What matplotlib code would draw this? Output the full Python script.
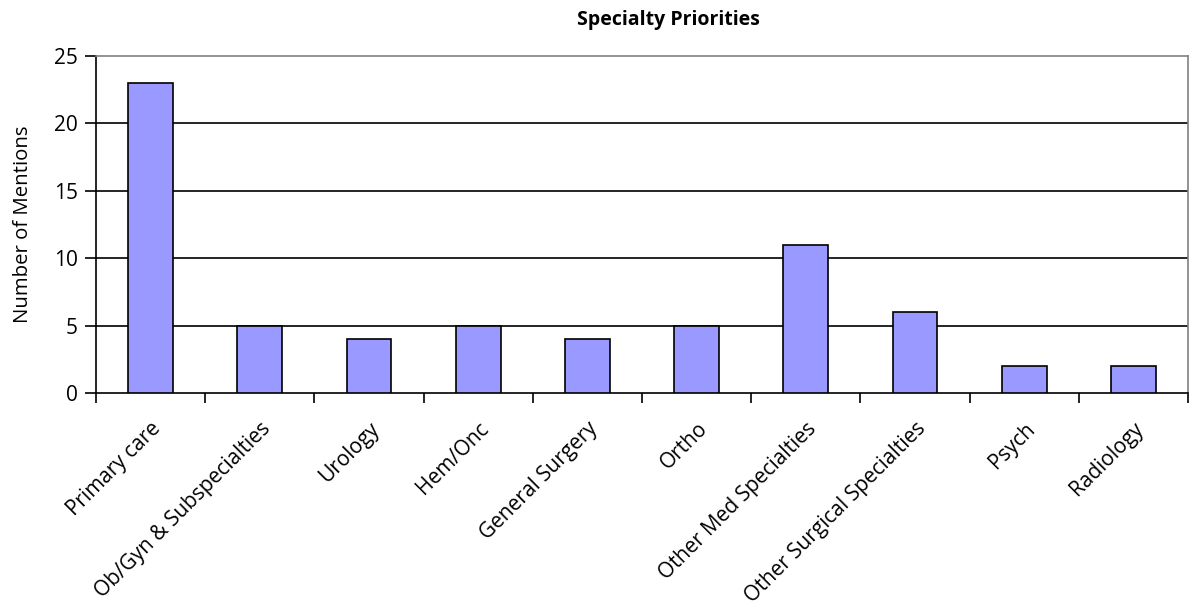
import numpy as np
import matplotlib
matplotlib.use('Agg')
import matplotlib.pyplot as plt

# Data
specialties = ['Primary care', 'Ob/Gyn & Subspecialties', 'Urology', 'Hem/Onc',
               'General Surgery', 'Ortho', 'Other Med Specialties',
               'Other Surgical Specialties', 'Psych', 'Radiology']
mentions = [23, 5, 4, 5, 4, 5, 11, 6, 2, 2]
y_ticks = [0, 5, 10, 15, 20, 25]

plt.rcParams['font.family'] = ['Open Sans', 'DejaVu Sans']

fig = plt.figure(figsize=(11.95, 6.07), dpi=100)
ax = fig.add_axes([0.0803, 0.352, 0.9138, 0.5562])

x = np.arange(len(specialties))
ax.bar(x, mentions, width=0.41, color='#9999FF', edgecolor='black', linewidth=1.2, zorder=3)

# Gridlines
for v in y_ticks[1:-1]:
    ax.axhline(v, color='black', linewidth=1.2, zorder=1)

ax.set_xlim(-0.5, len(specialties) - 0.5)
ax.set_ylim(0, 25)
ax.set_yticks(y_ticks)
ax.tick_params(axis='y', direction='out', length=8, width=1.2, labelsize=15, pad=5)

# Category ticks at boundaries, labels centered under bars
ax.set_xticks(np.arange(-0.5, len(specialties)), minor=False)
ax.set_xticklabels([])
ax.tick_params(axis='x', which='major', direction='out', length=7, width=1.2)
ax.set_xticks(x, minor=True)
ax.set_xticklabels(specialties, minor=True, rotation=45, ha='right',
                   rotation_mode='anchor', fontsize=15)
ax.tick_params(axis='x', which='minor', length=0, pad=18)

for side in ['left', 'bottom']:
    ax.spines[side].set_color('black')
    ax.spines[side].set_linewidth(1.2)
for side in ['top', 'right']:
    ax.spines[side].set_color('#808080')
    ax.spines[side].set_linewidth(1.2)

ax.set_ylabel('Number of Mentions', fontsize=14.7, labelpad=15)
fig.text(0.559, 0.967, 'Specialty Priorities', ha='center', va='center',
         fontsize=14, fontweight='bold')

fig.savefig('out.png', dpi=100)
